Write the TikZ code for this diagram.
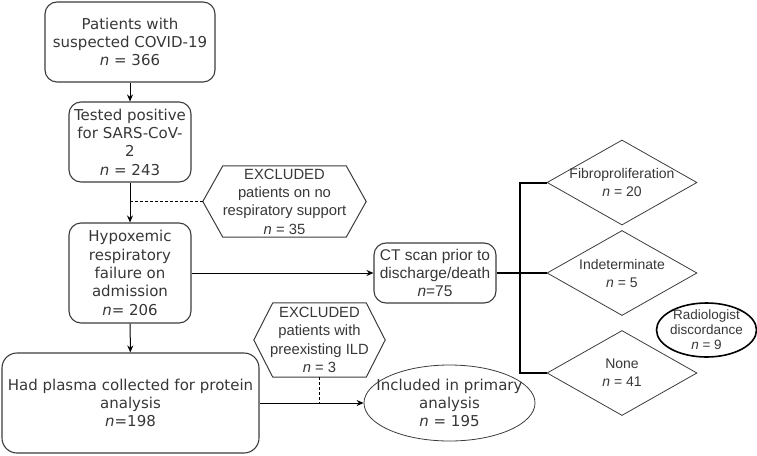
\documentclass[tikz,border=0pt]{standalone}
\usepackage{fontspec}
\setmainfont{DejaVu Sans}
\newfontfamily\arialfont{Liberation Sans}
\usetikzlibrary{arrows.meta,positioning,shapes.geometric}
\definecolor{ink}{RGB}{55,55,55}
\definecolor{rim}{RGB}{60,60,60}
\tikzset{
  >={Stealth[length=7pt,width=6pt]},
  flow/.style={->,draw=black,line width=1pt},
  cut/.style={draw=black,dash pattern=on 3pt off 2pt,line width=0.8pt},
  bus/.style={draw=black,line width=2pt},
  btext/.style={align=center,text=ink,font=\fontsize{15}{18.3}\selectfont},
  box/.style={btext,draw=rim,line width=1.1pt,rounded corners=12pt,inner sep=0pt},
  hexa/.style={inner sep=0pt,align=center,text=ink,font=\arialfont\fontsize{14.8}{18.3}\selectfont},
  hexline/.style={draw=rim,line width=1pt},
  dtext/.style={align=center,text=ink,font=\arialfont\fontsize{14}{18}\selectfont},
  outcome/.style={diamond,draw=rim,line width=0.8pt,minimum width=150pt,minimum height=85pt,inner sep=0pt},
}

\begin{document}
\begin{tikzpicture}[x=1pt,y=-1pt]
  \useasboundingbox (0,0) rectangle (757,455);
  % main column
  \node[box,minimum width=170pt,minimum height=80pt] (pat) at (130,42) {Patients with\\suspected COVID-19\\\textit{n} = 366};
  \node[box,minimum width=122pt,minimum height=80pt] (pos) at (130,142) {Tested positive\\for SARS-CoV-\\2\\\textit{n} = 243};
  \node[box,minimum width=122pt,minimum height=100pt] (hyp) at (130,273) {Hypoxemic\\respiratory\\failure on\\admission\\\textit{n}= 206};
  \node[box,minimum width=257pt,minimum height=100pt,rounded corners=15pt] (pla) at (130.5,403) {Had plasma collected for protein\\analysis\\\textit{n}=198};
  % exclusions
  \node[hexa,minimum width=163pt,minimum height=71pt] (exa) at (284.5,201.5) {EXCLUDED\\patients on no\\respiratory support\\\textit{n} = 35};
  \node[hexa,minimum width=131pt,minimum height=74pt] (exb) at (319.5,340) {EXCLUDED\\patients with\\preexisting ILD\\\textit{n} = 3};
  \foreach \h/\s in {exa/20,exb/19}
    \draw[hexline] ([xshift=\s]\h.north west) -- ([xshift=-\s]\h.north east) -- (\h.east)
      -- ([xshift=-\s]\h.south east) -- ([xshift=\s]\h.south west) -- (\h.west) -- cycle;
  % right branch
  \node[box,font=\arialfont\fontsize{15.5}{18.3}\selectfont,minimum width=122pt,minimum height=60pt] (ct) at (435,273) {CT scan prior to\\discharge/death\\\textit{n}=75};
  \node[ellipse,draw=rim,line width=0.8pt,minimum width=171pt,minimum height=76pt,inner sep=0pt,
    label={[btext]center:Included in primary\\analysis\\\textit{n} = 195}] (inc) at (449.5,403) {};
  \node[outcome,label={[dtext]center:Fibroproliferation\\\textit{n} = 20}] (fib) at (622,182.5) {};
  \node[outcome,label={[dtext]center:Indeterminate\\\textit{n} = 5}] (ind) at (622,273) {};
  \node[outcome,label={[dtext]center:None\\\textit{n} = 41}] (non) at (622,373) {};
  \node[ellipse,draw=black,line width=1.6pt,minimum width=100pt,minimum height=54pt,inner sep=0pt,
    label={[dtext,font=\arialfont\fontsize{13.5}{15}\selectfont]center:Radiologist\\discordance\\\textit{n} = 9}] (rad) at (706.5,330) {};
  % connectors
  \draw[flow] (pat) -- (pos);
  \draw[flow] (pos) -- (hyp);
  \draw[cut] (exa.west) -- (exa.west -| pos.south);
  \draw[flow] (hyp) -- (pla);
  \draw[flow] (hyp.east) -- (ct.west);
  \draw[flow] (pla.east) -- (inc.west);
  \draw[cut] (exb.south) -- (exb.south |- pla.east);
  \coordinate (split) at (520,273);
  \draw[bus] (fib.west) -| (split) |- (non.west);
  \draw[bus] (ct.east) -- (split) -- (ind.west);
\end{tikzpicture}
\end{document}
